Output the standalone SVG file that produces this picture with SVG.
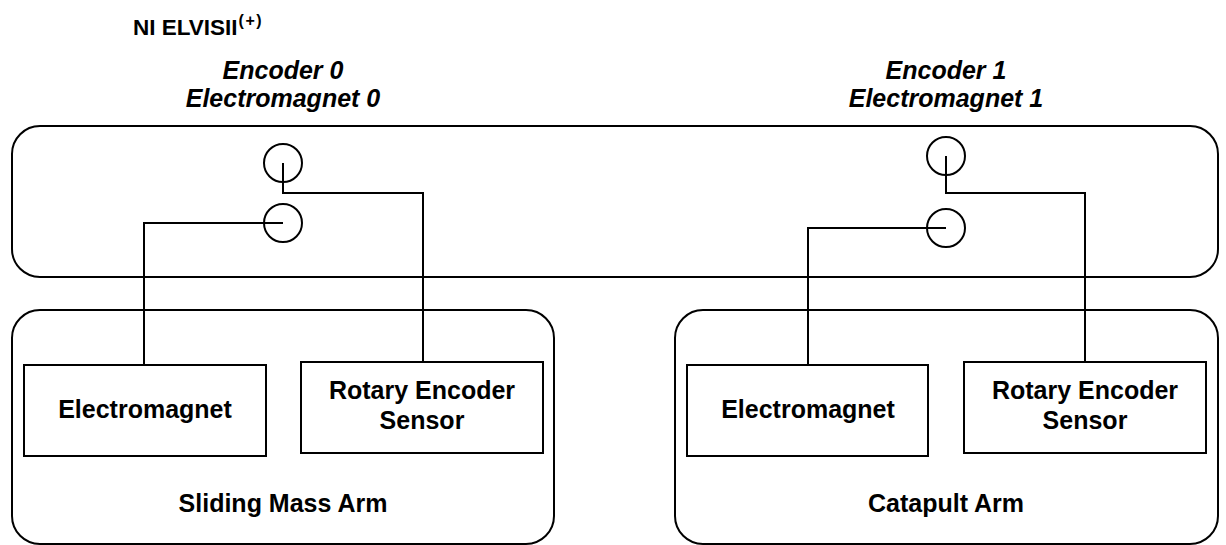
<svg xmlns="http://www.w3.org/2000/svg" width="1226" height="545" viewBox="0 0 1226 545">
  <style>
    .frame { fill: none; stroke: #000; stroke-width: 2; }
    .box { fill: #fff; stroke: #000; stroke-width: 2; }
    .port { fill: none; stroke: #000; stroke-width: 2; }
    .wire { fill: none; stroke: #000; stroke-width: 2; }
    text { font-family: "Liberation Sans", Arial, sans-serif; font-weight: bold; fill: #000; }
    .lbl { font-size: 25px; text-anchor: middle; }
    .hdr { font-size: 25px; font-style: italic; text-anchor: middle; }
    .title { font-size: 22.5px; }
  </style>
  <rect width="1226" height="545" fill="#fff"/>

  <!-- title -->
  <text class="title" x="133" y="35">NI ELVISII<tspan font-size="16" dy="-9" dx="1" letter-spacing="1.5">(+)</tspan></text>

  <!-- ELVIS board with its two connector blocks -->
  <g id="elvis">
    <rect class="frame" x="12" y="126" width="1206" height="151" rx="28" ry="28"/>
    <text class="hdr" x="283" y="78.5">Encoder 0</text>
    <text class="hdr" x="283" y="107">Electromagnet 0</text>
    <text class="hdr" x="946" y="78.5">Encoder 1</text>
    <text class="hdr" x="946" y="107">Electromagnet 1</text>
  </g>
  <g id="port-enc0"><circle class="port" cx="283" cy="163" r="19"/></g>
  <g id="port-em0"><circle class="port" cx="283" cy="223" r="19"/></g>
  <g id="port-enc1"><circle class="port" cx="946" cy="156" r="19"/></g>
  <g id="port-em1"><circle class="port" cx="946" cy="228" r="19"/></g>

  <!-- sliding mass arm -->
  <g id="sliding-mass-arm">
    <rect class="frame" x="12" y="310" width="542" height="234" rx="28" ry="28"/>
    <text class="lbl" x="283" y="512">Sliding Mass Arm</text>
  </g>
  <g id="sma-electromagnet">
    <rect class="box" x="24" y="365" width="242" height="91"/>
    <text class="lbl" x="145" y="418">Electromagnet</text>
  </g>
  <g id="sma-encoder">
    <rect class="box" x="301" y="362" width="242" height="91"/>
    <text class="lbl" x="422" y="399">Rotary Encoder</text>
    <text class="lbl" x="422" y="429">Sensor</text>
  </g>

  <!-- catapult arm -->
  <g id="catapult-arm">
    <rect class="frame" x="675" y="310" width="543" height="234" rx="28" ry="28"/>
    <text class="lbl" x="946" y="512">Catapult Arm</text>
  </g>
  <g id="ca-electromagnet">
    <rect class="box" x="687" y="365" width="241" height="91"/>
    <text class="lbl" x="808" y="418">Electromagnet</text>
  </g>
  <g id="ca-encoder">
    <rect class="box" x="964" y="362" width="242" height="91"/>
    <text class="lbl" x="1085" y="399">Rotary Encoder</text>
    <text class="lbl" x="1085" y="429">Sensor</text>
  </g>

  <!-- wiring from ports to devices -->
  <g id="connectors">
    <path class="wire" d="M283,163 V193 H423 V362"/>
    <path class="wire" d="M283,223 H144 V365"/>
    <path class="wire" d="M946,156 V193 H1085 V362"/>
    <path class="wire" d="M946,228 H808 V365"/>
  </g>
</svg>
